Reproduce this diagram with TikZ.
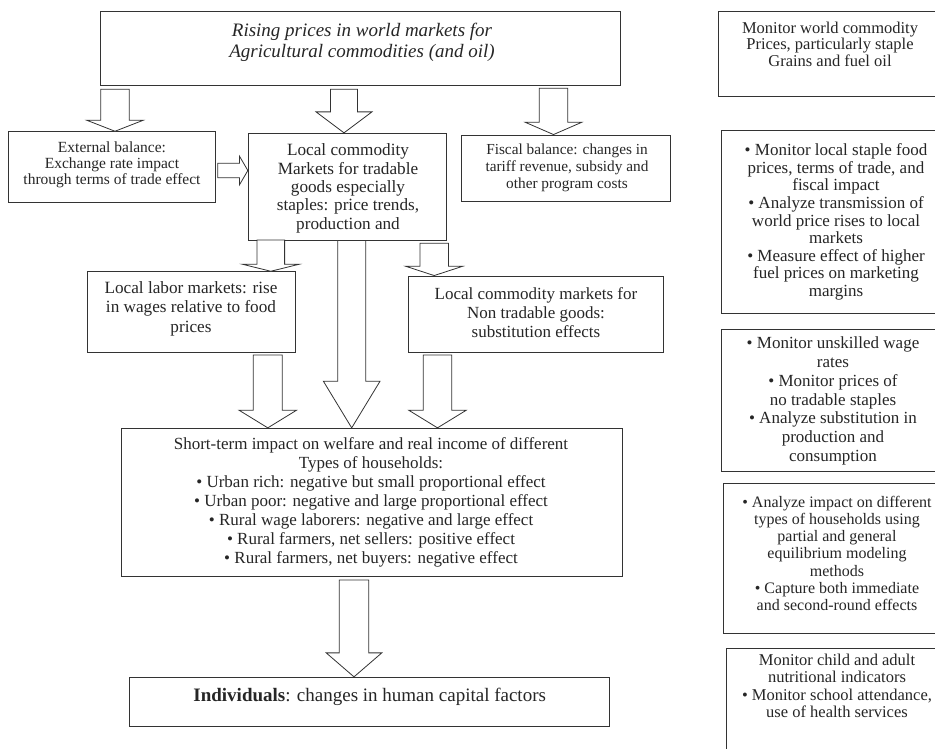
\documentclass[tikz,border=0pt]{standalone}
\usepackage{fontspec}
\setmainfont{Liberation Serif}
\usetikzlibrary{calc}
\tikzset{
  bx/.style={draw=black!80, line width=0.9pt, rectangle, inner sep=0pt},
  txt/.style={align=center, inner sep=0pt, text=black!85},
  blk/.style={draw=black!80, line width=0.8pt, fill=white, line join=miter},
}
\newcommand\fs[2]{\fontsize{#1}{#2}\selectfont}
% downward block arrow: start, tip, shaft half width, head half width, head length
\newcommand\barrowD[5]{%
  \draw[blk] let \p1=(#1), \p2=(#2) in
    (\x2-#3pt,\y1) -- (\x2-#3pt,\y2+#5pt) -- (\x2-#4pt,\y2+#5pt) -- (\x2,\y2)
    -- (\x2+#4pt,\y2+#5pt) -- (\x2+#3pt,\y2+#5pt) -- (\x2+#3pt,\y1) -- cycle;}
% rightward block arrow
\newcommand\barrowR[5]{%
  \draw[blk] let \p1=(#1), \p2=(#2) in
    (\x1,\y2+#3pt) -- (\x2-#5pt,\y2+#3pt) -- (\x2-#5pt,\y2+#4pt) -- (\x2,\y2)
    -- (\x2-#5pt,\y2-#4pt) -- (\x2-#5pt,\y2-#3pt) -- (\x1,\y2-#3pt) -- cycle;}
\begin{document}
\begin{tikzpicture}[x=1pt,y=-1pt]
\useasboundingbox (0,0) rectangle (935,748);
\fill[white] (0,0) rectangle (935,748);
\clip (0,0) rectangle (935,748);

% ---------- main flow boxes ----------
\node[bx, minimum width=520pt, minimum height=73.3pt] (top) at (360,48.35) {};
\node[bx, minimum width=207pt, minimum height=70.3pt] (ext) at (111.5,166.85) {};
\node[bx, minimum width=198.4pt, minimum height=106.7pt] (loc) at (347.5,186.65) {};
\node[bx, minimum width=208.3pt, minimum height=66.7pt] (fis) at (565.85,168.35) {};
\node[bx, minimum width=208pt, minimum height=81pt] (lab) at (191,312.2) {};
\node[bx, minimum width=254.7pt, minimum height=76.7pt] (ntr) at (535.65,314.35) {};
\node[bx, minimum width=501pt, minimum height=148.4pt] (sht) at (371.5,502.5) {};
\node[bx, minimum width=480pt, minimum height=49.4pt] (ind) at (369,702) {};

% ---------- texts ----------
\node[txt, font=\fs{19}{21.6}\itshape] (toptx) at (362,42.5)
  {Rising prices in world markets for\\Agricultural commodities (and oil)};
\node[txt, font=\fs{15.5}{16.4}] (exttx) at (112,164.7)
  {External balance:\\Exchange rate impact\\through terms of trade effect};
\node[txt, font=\fs{17.2}{18.3}] (loctx) at (348,188.3)
  {Local commodity\\Markets for tradable\\goods especially\\staples: price trends,\\production and};
\node[txt, font=\fs{15.3}{16.7}] (fistx) at (567,167.7)
  {Fiscal balance: changes in\\tariff revenue, subsidy and\\other program costs};
\node[txt, font=\fs{17.2}{19.5}] (labtx) at (191,308.8)
  {Local labor markets: rise\\in wages relative to food\\prices};
\node[txt, font=\fs{17}{19.2}] (ntrtx) at (536,312.5)
  {Local commodity markets for\\Non tradable goods:\\substitution effects};
\node[txt, font=\fs{17}{19}] (shttx) at (371,502)
  {Short-term impact on welfare and real income of different\\Types of households:\\
   • Urban rich: negative but small proportional effect\\
   • Urban poor: negative and large proportional effect\\
   • Rural wage laborers: negative and large effect\\
   • Rural farmers, net sellers: positive effect\\
   • Rural farmers, net buyers: negative effect};
\node[txt, font=\fs{19}{21}] (indtx) at (369.7,696.7)
  {\textbf{Individuals}: changes in human capital factors};

% ---------- block arrows ----------
\coordinate (a1s) at (115,89.3);   \coordinate (a1t) at (ext.north -| a1s);
\coordinate (a2s) at (344,89.3);   \coordinate (a2t) at (loc.north -| a2s);
\coordinate (a3s) at (553.5,88.3); \coordinate (a3t) at (fis.north -| a3s);
\coordinate (a4s) at (217.7,170.5);\coordinate (a4t) at (loc.west |- a4s);
\coordinate (a5s) at (270.8,240);  \coordinate (a5t) at (lab.north -| a5s);
\coordinate (a6s) at (434.2,243.3);\coordinate (a6t) at (ntr.north -| a6s);
\coordinate (a7s) at (267.8,355);  \coordinate (a7t) at (sht.north -| a7s);
\coordinate (a8s) at (351.7,240.5);\coordinate (a8t) at (sht.north -| a8s);
\coordinate (a9s) at (437.5,355);  \coordinate (a9t) at (sht.north -| a9s);
\coordinate (a10s) at (354,580);   \coordinate (a10t) at (ind.north -| a10s);

\barrowD{a1s}{a1t}{14.2}{28.2}{11}
\barrowD{a2s}{a2t}{13.5}{28}{21}
\barrowD{a3s}{a3t}{14.2}{28.3}{12.3}
\barrowR{a4s}{a4t}{7.2}{14.2}{8.3}
\barrowD{a5s}{a5t}{13.8}{28.3}{7}
\barrowD{a6s}{a6t}{14.2}{28.5}{9.3}
\barrowD{a7s}{a7t}{14.5}{28.7}{17.6}
\barrowD{a8s}{a8t}{14}{28.3}{46.6}
\barrowD{a9s}{a9t}{14.2}{28.7}{17.6}
\barrowD{a10s}{a10t}{14.7}{27.8}{24}

% ---------- right column ----------
\node[bx, minimum width=230pt, minimum height=84.3pt] (r1) at (833.3,53.85) {};
\node[bx, minimum width=230pt, minimum height=182.6pt] (r2) at (836,222) {};
\node[bx, minimum width=230pt, minimum height=142.4pt] (r3) at (836,400.5) {};
\node[bx, minimum width=230pt, minimum height=150pt] (r4) at (838.3,558.3) {};
\node[bx, minimum width=230pt, minimum height=120pt] (r5) at (841,708.3) {};

\node[txt, font=\fs{16.5}{16.5}] (r1tx) at (830,44.2)
  {Monitor world commodity\\Prices, particularly staple\\Grains and fuel oil};
\node[txt, font=\fs{17}{17.6}] (r2tx) at (836,222)
  {• Monitor local staple food\\prices, terms of trade, and\\fiscal impact\\
   • Analyze transmission of\\world price rises to local\\markets\\
   • Measure effect of higher\\fuel prices on marketing\\margins};
\node[txt, font=\fs{17}{18.7}] (r3tx) at (833,401)
  {• Monitor unskilled wage\\rates\\• Monitor prices of\\no tradable staples\\
   • Analyze substitution in\\production and\\consumption};
\node[txt, font=\fs{16}{17.2}] (r4tx) at (837,553.3)
  {• Analyze impact on different\\types of households using\\partial and general\\
   equilibrium modeling\\methods\\• Capture both immediate\\and second-round effects};
\node[txt, font=\fs{16.5}{17.4}] (r5tx) at (837,686)
  {Monitor child and adult\\nutritional indicators\\• Monitor school attendance,\\use of health services};
\end{tikzpicture}
\end{document}
